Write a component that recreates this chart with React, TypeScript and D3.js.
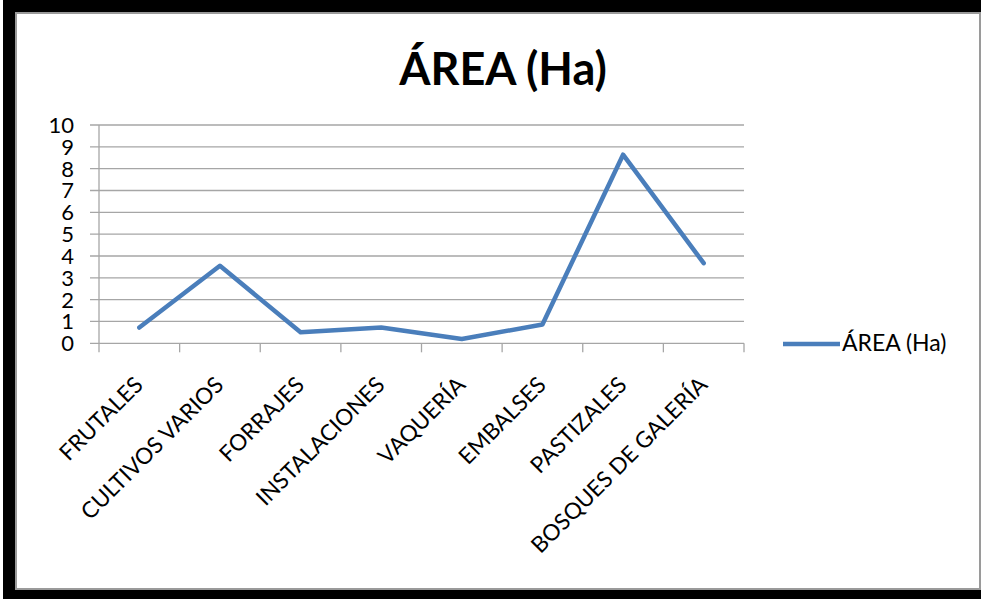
import React from "react";
import * as d3 from "d3";

const categories = ["FRUTALES", "CULTIVOS VARIOS", "FORRAJES", "INSTALACIONES", "VAQUERÍA", "EMBALSES", "PASTIZALES", "BOSQUES DE GALERÍA"];
const values = [0.72, 3.55, 0.51, 0.72, 0.2, 0.86, 8.64, 3.67];
const yTicks = [0, 1, 2, 3, 4, 5, 6, 7, 8, 9, 10];
const seriesName = "ÁREA (Ha)";
const title = "ÁREA (Ha)";

const W = 981, H = 599;
const plot = { left: 99, right: 744, top: 125, bottom: 343.3 };
const FONT = "Lato, 'Open Sans', sans-serif";
const BLUE = "#4a7ebb";
const GRID = "#a6a6a6";

export default function App() {
  const x = d3.scaleBand<string>().domain(categories).range([plot.left, plot.right]);
  const y = d3.scaleLinear().domain([0, 10]).range([plot.bottom, plot.top]);
  const line = d3.line<number>()
    .x((_, i) => (x(categories[i]) as number) + x.bandwidth() / 2)
    .y((d) => y(d));
  const tickXs = [...categories.map((c) => x(c) as number), plot.right];

  return (
    <svg width={W} height={H} style={{ position: "absolute", left: 0, top: 0, background: "#fff" }}>
      <rect x={3} y={0} width={W - 3} height={H} fill="#000" />
      <rect x={16} y={13} width={964} height={576} fill="#fff" stroke="#9a9a9a" strokeWidth={2} />
      <text x={503} y={85} textAnchor="middle" fontFamily={FONT} fontWeight="bold" fontSize={45} fill="#000">{title}</text>
      {yTicks.map((t) => (
        <g key={t}>
          <line x1={90} x2={plot.right} y1={y(t)} y2={y(t)} stroke={GRID} strokeWidth={1.3} />
          <text x={74} y={y(t)} dy="0.36em" textAnchor="end" fontFamily={FONT} fontSize={22} fill="#000">{t}</text>
        </g>
      ))}
      <line x1={plot.left} x2={plot.left} y1={plot.top} y2={plot.bottom} stroke={GRID} strokeWidth={1.3} />
      {tickXs.map((tx, i) => (
        <line key={i} x1={tx} x2={tx} y1={plot.bottom} y2={plot.bottom + 9} stroke={GRID} strokeWidth={1.3} />
      ))}
      {categories.map((c) => {
        const cx = (x(c) as number) + x.bandwidth() / 2 + 5;
        const cy = plot.bottom + 43;
        return (
          <text key={c} x={cx} y={cy} textAnchor="end" transform={`rotate(-45, ${cx}, ${cy})`} fontFamily={FONT} fontSize={22.5} fill="#000">{c}</text>
        );
      })}
      <path d={line(values) || ""} fill="none" stroke={BLUE} strokeWidth={4.5} strokeLinejoin="round" strokeLinecap="round" />
      <line x1={783} x2={840} y1={344} y2={344} stroke={BLUE} strokeWidth={4.5} />
      <text x={842} y={351} fontFamily={FONT} fontSize={23} fill="#000">{seriesName}</text>
    </svg>
  );
}
